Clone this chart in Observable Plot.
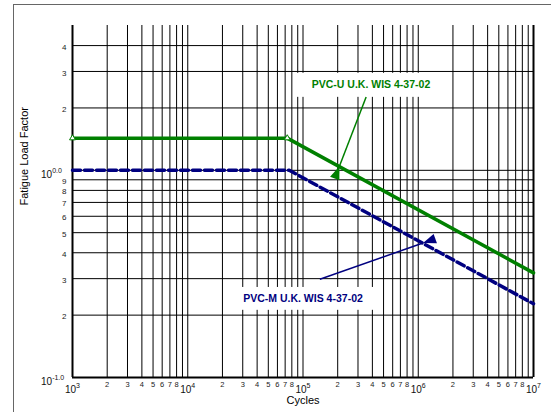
<!DOCTYPE html>
<html><head><meta charset="utf-8">
<script src="https://cdn.jsdelivr.net/npm/d3@7"></script>
<script src="https://cdn.jsdelivr.net/npm/@observablehq/plot@0.6"></script>
<style>
html,body{margin:0;padding:0;background:#fff;}
#wrap{position:relative;width:551px;height:412px;overflow:hidden;background:#fff;}
#chart{position:absolute;left:0;top:0;}
#border{position:absolute;left:13px;top:4px;width:700px;height:600px;border-left:1px solid #666;border-top:1px solid #666;pointer-events:none;}
</style></head><body>
<div id="wrap"><div id="chart"></div><div id="border"></div></div>
<script>
// ---- data ----
const cyclesU = [1e3, 7.3e4, 1e7];
const factorU = [1.43, 1.43, 0.32];
const cyclesM = [1e3, 7.6e4, 1e7];
const factorM = [1.0, 1.0, 0.227];
const labelU = "PVC-U U.K. WIS 4-37-02";
const labelM = "PVC-M U.K. WIS 4-37-02";
const xTitle = "Cycles";
const yTitle = "Fatigue Load Factor";
const xGridDigits = [2, 3, 4, 5, 6, 7, 8, 9];
const xLabelDigits = [2, 3, 4, 5, 6, 7, 8];
const xDecadeExps = [3, 4, 5, 6, 7];
const yLowDigits = [2, 3, 4, 5, 6, 7, 8, 9];   // x 0.1
const yHighDigits = [2, 3, 4];                 // x 1
const yDecadeVals = [0.1, 1];
const yDecadeLabels = ["10^-1.0", "10^0.0"];
// annotation anchors (data units)
const annotU = {tx: 3.89e5, ty: 2.58, bx1: 8.95e4, bx2: 1.66e6, by1: 2.25, by2: 2.94, ax1: 3.53e5, ay1: 2.26, ax2: 2.07e5, ay2: 1.045};
const annotM = {tx: 1.0e5, ty: 0.241, bx1: 2.13e4, bx2: 4.9e5, by1: 0.211, by2: 0.272, ax1: 1.40e5, ay1: 0.298, ax2: 1.10e6, ay2: 0.446};

// ---- layout ----
const W = 551, H = 412;
const mL = 72, mR = 18, mT = 25, mB = 35;
const xDomain = [1e3, 1e7], yDomain = [0.1, 5];
const green = "#008000", navy = "#000080";

const dataU = cyclesU.map((c, i) => ({c, f: factorU[i]}));
const dataM = cyclesM.map((c, i) => ({c, f: factorM[i]}));

const xGrid = [];
for (let k = 3; k <= 6; k++) {
  for (const m of xGridDigits) xGrid.push(m * 10 ** k);
  if (k > 3) xGrid.push(10 ** k);
}
const xMinorTicks = [];
for (let k = 3; k <= 6; k++) for (const m of xLabelDigits) xMinorTicks.push({v: m * 10 ** k, label: String(m)});
const xDecadeTicks = xDecadeExps.map(e => ({v: 10 ** e, label: "10^" + e}));
const yDigits = [...yLowDigits.map(d => ({v: d / 10, label: String(d)})), ...yHighDigits.map(d => ({v: d, label: String(d)}))];
const yGrid = [...yDigits.map(d => d.v), 1];
const yDecades = yDecadeVals.map((v, i) => ({v, label: yDecadeLabels[i]}));

const sx = Plot.scale({x: {type: "log", domain: xDomain, range: [mL, W - mR]}});
const sy = Plot.scale({y: {type: "log", domain: yDomain, range: [H - mB, mT]}});

const arrows = [
  {...annotU, color: green},
  {...annotM, color: navy}
].map(a => {
  const dx = sx.apply(a.ax2) - sx.apply(a.ax1);
  const dy = sy.apply(a.ay2) - sy.apply(a.ay1);
  return {...a, angle: Math.atan2(dx, -dy) * 180 / Math.PI + 180};
});
const headSymbol = {draw(ctx) { ctx.moveTo(0, 0); ctx.lineTo(5, 13); ctx.lineTo(-5, 13); ctx.closePath(); }};
const boxes = [annotU, annotM];
const labels = [{...annotU, text: labelU, color: green}, {...annotM, text: labelM, color: navy}];

const plot = Plot.plot({
  width: W, height: H,
  marginLeft: mL, marginRight: mR, marginTop: mT, marginBottom: mB,
  style: {fontFamily: "'Liberation Sans', Arial, sans-serif", background: "white"},
  x: {type: "log", domain: xDomain, axis: null},
  y: {type: "log", domain: yDomain, axis: null},
  marks: [
    Plot.ruleX(xGrid, {stroke: "#000", strokeWidth: 1}),
    Plot.ruleY(yGrid, {stroke: "#000", strokeWidth: 1}),
    Plot.ruleX(xDomain, {stroke: "#000", strokeWidth: 2}),
    Plot.ruleY([yDomain[0]], {stroke: "#000", strokeWidth: 2}),
    Plot.rect(boxes, {x1: "bx1", x2: "bx2", y1: "by1", y2: "by2", fill: "white"}),
    Plot.line(dataM, {x: "c", y: "f", stroke: navy, strokeWidth: 3.5, strokeDasharray: "8,4"}),
    Plot.line(dataU, {x: "c", y: "f", stroke: green, strokeWidth: 3.5}),
    Plot.dot(dataU.slice(0, 2), {x: "c", y: "f", symbol: "triangle", r: 2.2, stroke: green, fill: "white", strokeWidth: 1}),
    Plot.link(arrows, {x1: "ax1", y1: "ay1", x2: "ax2", y2: "ay2", stroke: "color", strokeWidth: 1.5}),
    Plot.dot(arrows, {x: "ax2", y: "ay2", symbol: headSymbol, rotate: "angle", fill: "color", stroke: "none"}),
    Plot.text(labels, {x: "tx", y: "ty", text: "text", fill: "color", fontWeight: "bold", fontSize: 10.5}),
    Plot.text(xMinorTicks, {x: "v", text: "label", frameAnchor: "bottom", dy: 9.5, fontSize: 7.5, fill: "#222"}),
    Plot.text(xDecadeTicks, {x: "v", text: "label", frameAnchor: "bottom", dy: 15, fontSize: 10, fill: "#111"}),
    Plot.text(yDigits, {y: "v", text: "label", frameAnchor: "left", dx: -6, dy: 1.5, textAnchor: "end", fontSize: 8, fill: "#222"}),
    Plot.text(yDecades, {y: "v", text: "label", frameAnchor: "left", dx: -31.5, dy: 4, textAnchor: "start", fontSize: 10, fill: "#111"}),
    Plot.text([xTitle], {frameAnchor: "bottom", dy: 26, fontSize: 11, fill: "#000"}),
    Plot.text([yTitle], {frameAnchor: "left", dx: -48, dy: 4, rotate: -90, fontSize: 11, fill: "#000"})
  ]
});

// superscripts for power-of-ten labels
plot.querySelectorAll("text").forEach(t => {
  const m = /^10\^(.+)$/.exec(t.textContent);
  if (m) {
    t.textContent = "10";
    const ts = document.createElementNS("http://www.w3.org/2000/svg", "tspan");
    ts.setAttribute("dy", "-5");
    ts.setAttribute("font-size", "7");
    ts.textContent = m[1];
    t.appendChild(ts);
  }
});
document.getElementById("chart").appendChild(plot);
</script>
</body></html>
